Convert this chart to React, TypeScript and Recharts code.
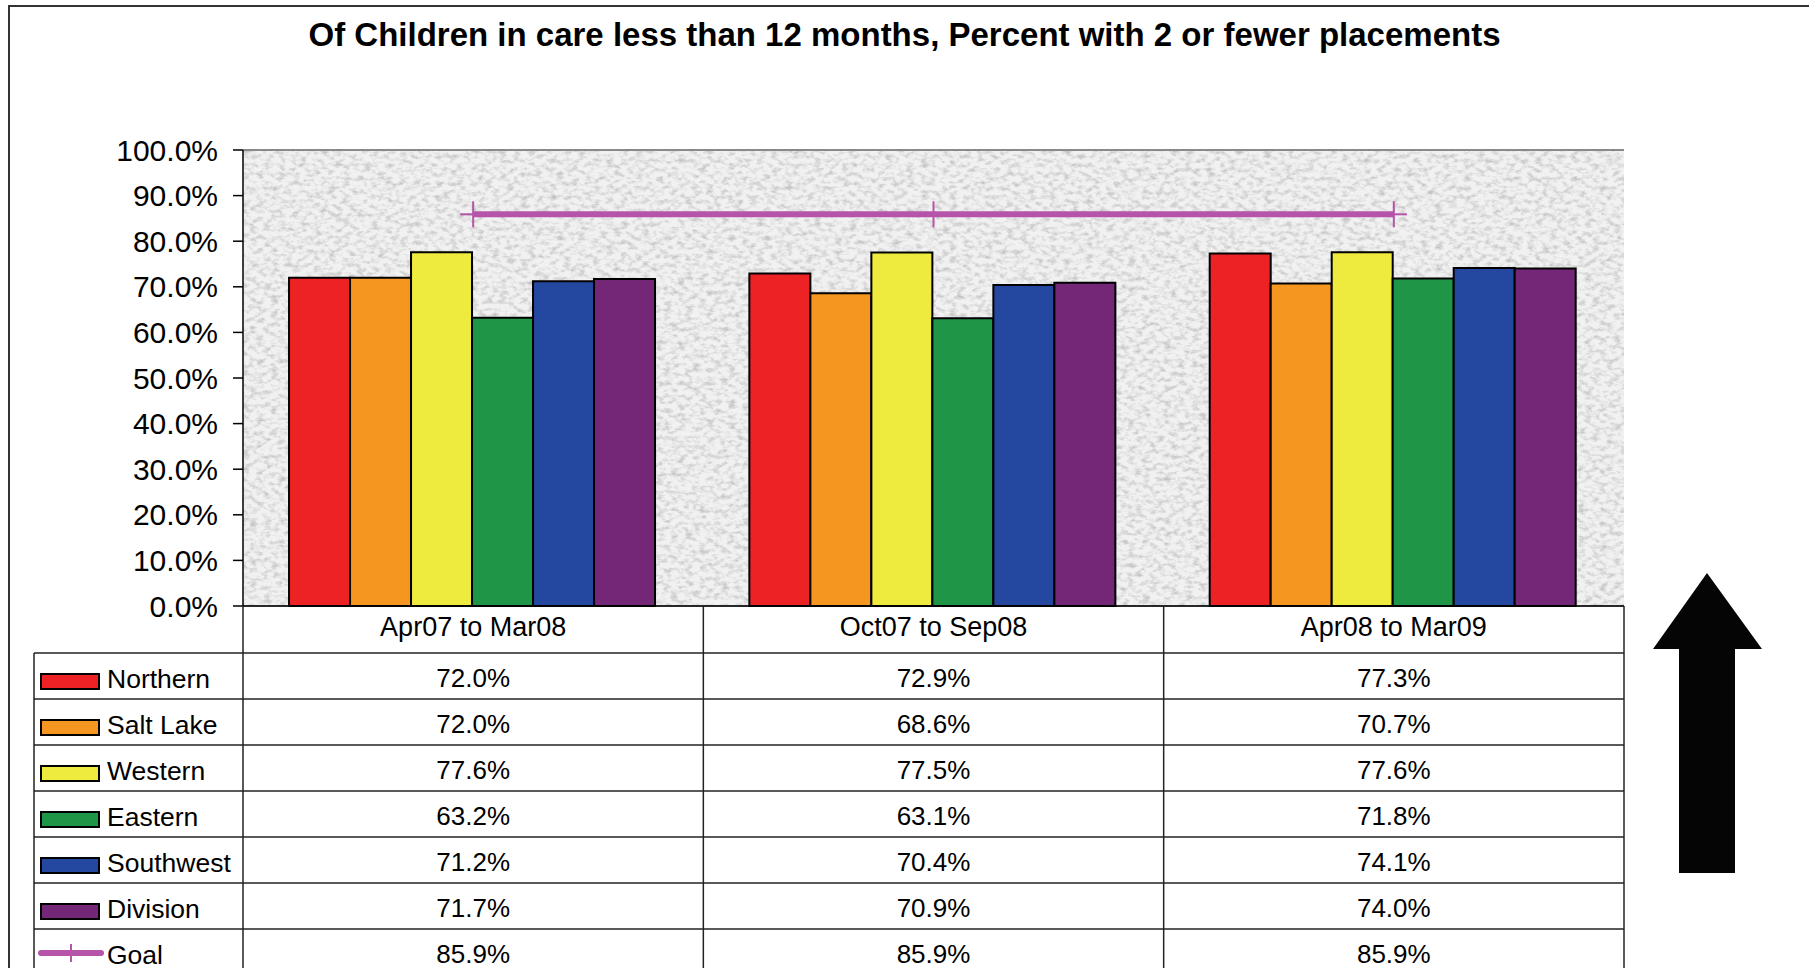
import React from 'react';
import {
  ComposedChart,
  Bar,
  Line,
  XAxis,
  YAxis,
  CartesianGrid,
  ReferenceLine,
} from 'recharts';

// ---------- data ----------
const categories = ['Apr07 to Mar08', 'Oct07 to Sep08', 'Apr08 to Mar09'];
const northern = [72.0, 72.9, 77.3];
const saltLake = [72.0, 68.6, 70.7];
const western = [77.6, 77.5, 77.6];
const eastern = [63.2, 63.1, 71.8];
const southwest = [71.2, 70.4, 74.1];
const division = [71.7, 70.9, 74.0];
const goal = [85.9, 85.9, 85.9];
const yTicks = [0, 10, 20, 30, 40, 50, 60, 70, 80, 90, 100];
const seriesNames = ['Northern', 'Salt Lake', 'Western', 'Eastern', 'Southwest', 'Division', 'Goal'];
const seriesValues = [northern, saltLake, western, eastern, southwest, division, goal];
const titleText = 'Of Children in care less than 12 months, Percent with 2 or fewer placements';

// ---------- styles ----------
const COLORS: Record<string, string> = {
  Northern: '#ED2224',
  'Salt Lake': '#F4961F',
  Western: '#EFEA3E',
  Eastern: '#1F9647',
  Southwest: '#24489F',
  Division: '#732776',
  Goal: '#B554A8',
};
const FONT = '"Liberation Sans", Arial, Helvetica, sans-serif';
const W = 1809;
const H = 968;
const PLOT_LEFT = 243;
const PLOT_RIGHT = 1624;
const PLOT_TOP = 150;
const PLOT_BOTTOM = 606;
const TABLE_LEFT = 34;
const HEADER_H = 47;
const ROW_H = 46;
const LINE_COLOR = '#222';

const data = categories.map((cat, i) => {
  const row: Record<string, string | number> = { cat };
  seriesNames.forEach((name, s) => {
    row[name] = seriesValues[s][i];
  });
  return row;
});

const fmt = (v: number) => `${v.toFixed(1)}%`;

const PlusDot = (props: any) => {
  const { cx, cy, index } = props;
  if (cx == null || cy == null) return <g key={`d${index}`} />;
  return (
    <g key={`d${index}`}>
      <line x1={cx} x2={cx} y1={cy - 13} y2={cy + 13} stroke={COLORS.Goal} strokeWidth={2} />
      <line x1={cx - 13} x2={cx + 13} y1={cy} y2={cy} stroke={COLORS.Goal} strokeWidth={2} />
    </g>
  );
};

const TableTick = (props: any) => {
  const { x, y, payload, index } = props;
  const band = (PLOT_RIGHT - PLOT_LEFT) / categories.length;
  const left = x - band / 2;
  const right = x + band / 2;
  const top = y;
  const bottom = H + 20;
  const els: React.ReactNode[] = [];
  els.push(
    <text key="h" x={x} y={top + 30} textAnchor="middle" fontSize={27} fontFamily={FONT} fill="#000">
      {payload.value}
    </text>
  );
  els.push(<line key="vr" x1={right} x2={right} y1={top} y2={bottom} stroke={LINE_COLOR} strokeWidth={1.5} />);
  if (index === 0) {
    els.push(<line key="vl" x1={left} x2={left} y1={top} y2={bottom} stroke={LINE_COLOR} strokeWidth={1.5} />);
    els.push(
      <line key="vt" x1={TABLE_LEFT} x2={TABLE_LEFT} y1={top + HEADER_H} y2={bottom} stroke={LINE_COLOR} strokeWidth={1.5} />
    );
  }
  seriesNames.forEach((name, s) => {
    const rowTop = top + HEADER_H + s * ROW_H;
    els.push(
      <line
        key={`hl${s}`}
        x1={index === 0 ? TABLE_LEFT : left}
        x2={right}
        y1={rowTop}
        y2={rowTop}
        stroke={LINE_COLOR}
        strokeWidth={1.5}
      />
    );
    els.push(
      <text key={`v${s}`} x={x} y={rowTop + 34} textAnchor="middle" fontSize={26} fontFamily={FONT} fill="#000">
        {fmt(seriesValues[s][index])}
      </text>
    );
    if (index === 0) {
      if (name === 'Goal') {
        const ly = rowTop + 24;
        els.push(
          <g key={`k${s}`}>
            <line x1={41} x2={101} y1={ly} y2={ly} stroke={COLORS.Goal} strokeWidth={6} strokeLinecap="round" />
            <line x1={71} x2={71} y1={ly - 9} y2={ly + 9} stroke={COLORS.Goal} strokeWidth={2} />
          </g>
        );
      } else {
        els.push(
          <rect key={`k${s}`} x={41} y={rowTop + 21} width={58} height={15} fill={COLORS[name]} stroke="#000" strokeWidth={2} />
        );
      }
      els.push(
        <text key={`t${s}`} x={107} y={rowTop + 35} textAnchor="start" fontSize={26.5} fontFamily={FONT} fill="#000">
          {name}
        </text>
      );
    }
  });
  return <g>{els}</g>;
};

export default function App() {
  return (
    <div
      style={{
        position: 'fixed',
        left: 0,
        top: 0,
        width: W,
        height: H,
        overflow: 'hidden',
        background: '#fff',
        fontFamily: FONT,
      }}
    >
      <div
        style={{
          position: 'absolute',
          left: 8,
          top: 5,
          width: W + 50,
          height: H + 50,
          borderLeft: '2px solid #333',
          borderTop: '2px solid #333',
        }}
      />
      <div
        style={{
          position: 'absolute',
          left: 0,
          top: 17,
          width: W,
          textAlign: 'center',
          fontSize: 33,
          lineHeight: '36px',
          fontWeight: 'bold',
          color: '#000',
          fontFamily: FONT,
        }}
      >
        {titleText}
      </div>
      <div style={{ position: 'absolute', left: 0, top: 0 }}>
        <ComposedChart
          width={W}
          height={H}
          data={data}
          margin={{ top: PLOT_TOP, right: W - PLOT_RIGHT, bottom: 0, left: 0 }}
          barCategoryGap="10%"
          barGap={0}
        >
          <defs>
            <filter id="graniteNoise" x="0" y="0" width="100%" height="100%">
              <feTurbulence type="fractalNoise" baseFrequency="0.14 0.22" numOctaves={4} seed={7} />
              <feColorMatrix
                type="matrix"
                values="0 0 0 0 0.55  0 0 0 0 0.55  0 0 0 0 0.55  2.4 0 0 0 -1.05"
              />
            </filter>
            <pattern id="granite" patternUnits="userSpaceOnUse" x={0} y={0} width={1900} height={700}>
              <rect x={0} y={0} width={1900} height={700} fill="#f1f1f1" />
              <rect x={0} y={0} width={1900} height={700} fill="#000" filter="url(#graniteNoise)" />
            </pattern>
          </defs>
          <CartesianGrid vertical={false} horizontal stroke="#4a4a4a" strokeWidth={1} fill="url(#granite)" fillOpacity={1} />
          <XAxis
            dataKey="cat"
            interval={0}
            height={H - PLOT_BOTTOM}
            tickLine={false}
            tickSize={0}
            tickMargin={0}
            axisLine={{ stroke: '#000', strokeWidth: 1.5 }}
            tick={<TableTick />}
          />
          <YAxis
            yAxisId="left"
            width={PLOT_LEFT}
            domain={[0, 100]}
            ticks={yTicks}
            interval={0}
            tickFormatter={(v: number) => fmt(v)}
            tickSize={10}
            tickMargin={15}
            tickLine={{ stroke: '#000', strokeWidth: 1.5 }}
            axisLine={{ stroke: '#000', strokeWidth: 1.5 }}
            tick={{ fontSize: 30, fill: '#000', fontFamily: FONT }}
          />
          <YAxis
            yAxisId="right"
            orientation="right"
            width={0}
            domain={[0, 100]}
            tick={false}
            tickLine={false}
            axisLine={{ stroke: '#8a8a8a', strokeWidth: 2 }}
          />
          <ReferenceLine yAxisId="left" y={100} stroke="#8a8a8a" strokeWidth={2} />
          {seriesNames
            .filter((n) => n !== 'Goal')
            .map((name) => (
              <Bar
                key={name}
                yAxisId="left"
                dataKey={name}
                fill={COLORS[name]}
                stroke="#000"
                strokeWidth={2}
                isAnimationActive={false}
              />
            ))}
          <Line
            yAxisId="left"
            dataKey="Goal"
            stroke={COLORS.Goal}
            strokeWidth={6}
            dot={PlusDot}
            activeDot={false}
            isAnimationActive={false}
          />
        </ComposedChart>
      </div>
      <svg
        width={W}
        height={H}
        style={{ position: 'absolute', left: 0, top: 0, pointerEvents: 'none' }}
      >
        <polygon
          points="1707,573 1762,649 1735,649 1735,873 1679,873 1679,649 1653,649"
          fill="#050505"
        />
      </svg>
    </div>
  );
}
